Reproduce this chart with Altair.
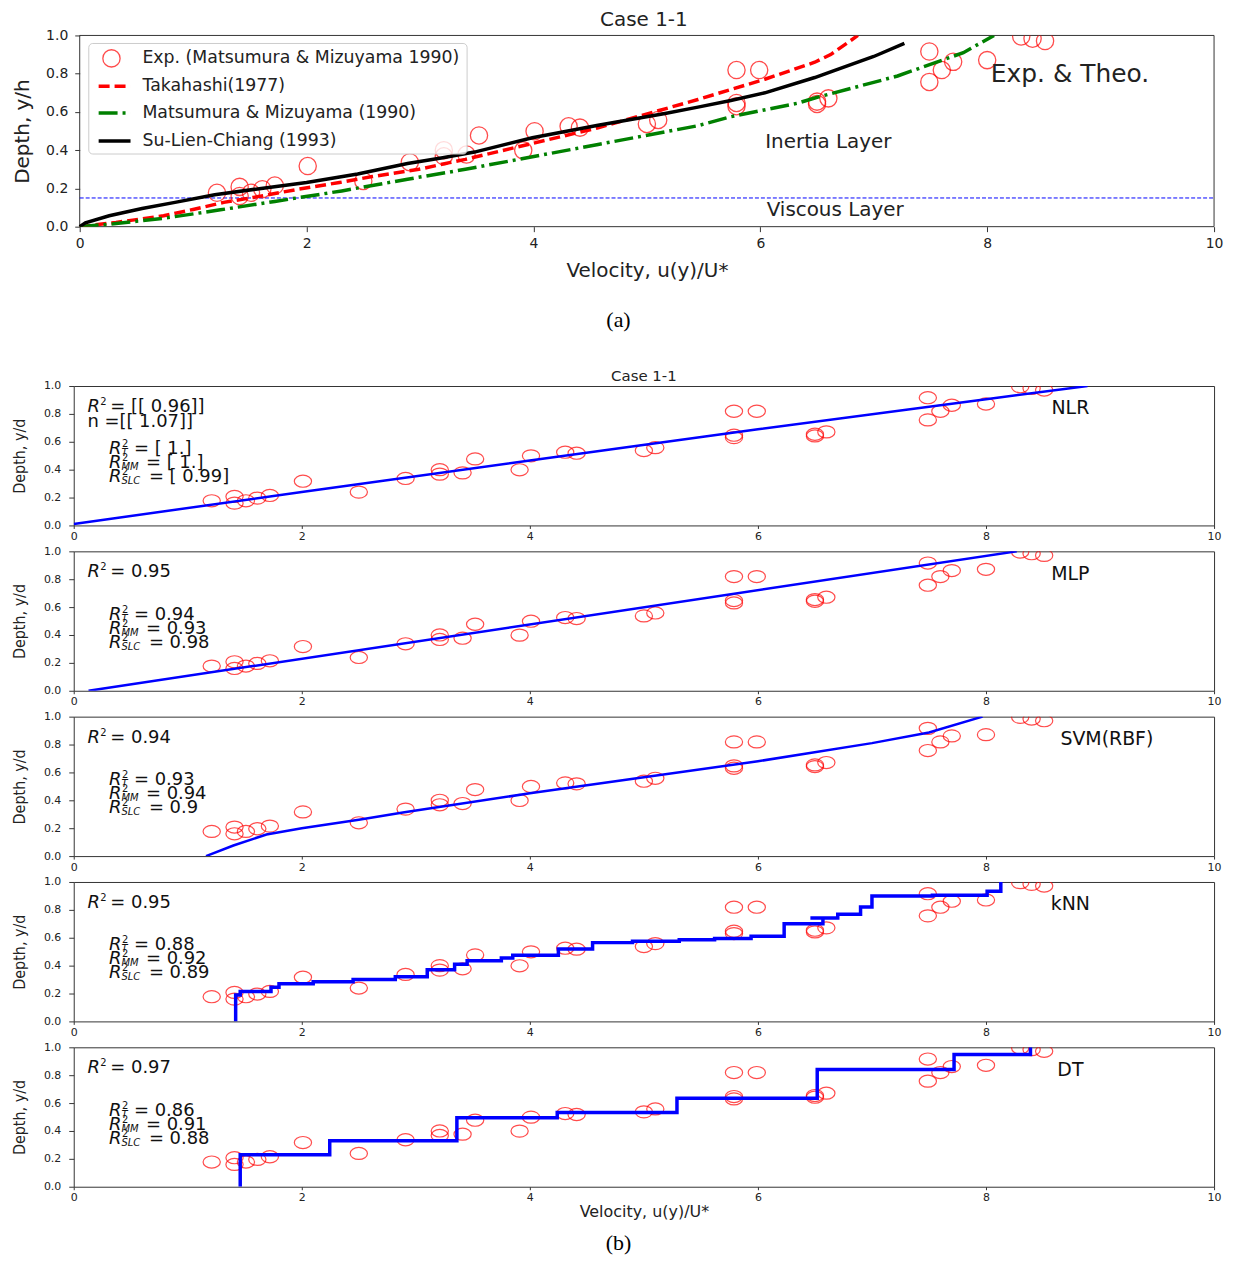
import altair as alt
import pandas as pd

# ---------------- data ----------------
# experimental points (Matsumura & Mizuyama 1990)
EXP_U = [1.21, 1.41, 1.41, 1.51, 1.61, 1.72, 2.01, 2.50, 2.91, 3.21, 3.21, 3.41, 3.52, 3.91, 4.01, 4.31, 4.41,
         5.00, 5.10, 5.79, 5.99, 5.79, 5.79, 6.50, 6.50, 6.60, 7.49, 7.49, 7.60, 7.70, 8.00, 8.30, 8.40, 8.51]
EXP_Y = [0.177, 0.208, 0.160, 0.177, 0.196, 0.215, 0.317, 0.239, 0.337, 0.400, 0.368, 0.377, 0.477, 0.399, 0.499, 0.525, 0.518,
         0.537, 0.558, 0.819, 0.819, 0.647, 0.630, 0.654, 0.642, 0.671, 0.916, 0.757, 0.819, 0.862, 0.871, 0.995, 0.983, 0.971]

# (a) theoretical curves
TAK_U = [0, 0.32, 0.74, 1.0, 1.27, 1.53, 1.93, 2.29, 2.58, 2.99, 3.26, 3.40, 4.57, 5.45, 6.04, 6.48, 6.62, 6.86]
TAK_Y = [0, 0.022, 0.057, 0.09, 0.127, 0.153, 0.196, 0.231, 0.262, 0.30, 0.335, 0.352, 0.517, 0.665, 0.771, 0.86, 0.90, 1.0]
MM_U = [0, 0.3, 0.755, 1.24, 1.72, 2.31, 2.89, 3.40, 4.57, 5.45, 5.74, 6.33, 6.48, 7.21, 7.79, 8.06]
MM_Y = [0, 0.015, 0.045, 0.088, 0.132, 0.187, 0.248, 0.30, 0.43, 0.528, 0.575, 0.646, 0.673, 0.788, 0.91, 1.0]
SLC_U = [0, 0.05, 0.26, 0.55, 0.84, 1.19, 1.6, 2.0, 2.45, 2.89, 3.2, 3.48, 3.99, 4.57, 5.16, 5.45, 5.74, 6.04, 6.48, 6.62, 7.0, 7.27]
SLC_Y = [0, 0.02, 0.057, 0.095, 0.127, 0.167, 0.20, 0.231, 0.275, 0.33, 0.36, 0.39, 0.465, 0.53, 0.592, 0.625, 0.66, 0.70, 0.78, 0.81, 0.89, 0.958]
VISCOUS_Y = 0.15
LEGEND_LABELS = ["Exp. (Matsumura & Mizuyama 1990)", "Takahashi(1977)", "Matsumura & Mizuyama (1990)", "Su-Lien-Chiang (1993)"]

# (b) machine-learning model curves
NLR_U = [0, 2, 4, 6, 8, 8.89]
NLR_Y = [0.01, 0.24, 0.465, 0.69, 0.905, 1.0]
MLP_U = [0.13, 8.27]
MLP_Y = [0.0, 1.0]
SVM_U = [1.16, 1.4, 1.69, 2.0, 2.5, 2.9, 4.0, 5.0, 6.0, 7.0, 7.5, 7.97]
SVM_Y = [0.0, 0.076, 0.155, 0.20, 0.26, 0.315, 0.45, 0.565, 0.68, 0.81, 0.886, 1.0]
KNN_U = [1.42, 1.42, 1.46, 1.46, 1.73, 1.73, 1.80, 1.80, 2.10, 2.10, 2.45, 2.45, 2.82, 2.82, 3.10, 3.10, 3.34, 3.34,
         3.45, 3.45, 3.75, 3.75, 3.85, 3.85, 4.25, 4.25, 4.55, 4.55, 4.90, 4.90, 5.31, 5.31, 5.62, 5.62, 5.94, 5.94,
         6.23, 6.23, 6.57, 6.57, 6.46, 6.70, 6.70, 6.90, 6.90, 7.00, 7.00, 7.53, 7.53, 8.01, 8.01, 8.13, 8.13]
KNN_Y = [0.0, 0.19, 0.19, 0.215, 0.215, 0.245, 0.245, 0.27, 0.27, 0.285, 0.285, 0.30, 0.30, 0.32, 0.32, 0.37, 0.37, 0.41,
         0.41, 0.435, 0.435, 0.455, 0.455, 0.475, 0.475, 0.52, 0.52, 0.565, 0.565, 0.575, 0.575, 0.585, 0.585, 0.594, 0.594, 0.611,
         0.611, 0.70, 0.70, 0.742, 0.742, 0.742, 0.768, 0.768, 0.821, 0.821, 0.90, 0.90, 0.905, 0.905, 0.933, 0.933, 1.0]
DT_U = [1.46, 1.46, 2.245, 2.245, 3.36, 3.36, 4.24, 4.24, 5.29, 5.29, 6.52, 6.52, 7.72, 7.72, 8.39, 8.39]
DT_Y = [0.0, 0.23, 0.23, 0.33, 0.33, 0.494, 0.494, 0.532, 0.532, 0.634, 0.634, 0.84, 0.84, 0.948, 0.948, 1.0]

MODEL_NAMES = ["NLR", "MLP", "SVM(RBF)", "kNN", "DT"]
R2_MAIN = ["= [[ 0.96]]", "= 0.95", "= 0.94", "= 0.95", "= 0.97"]
R2_T = ["= [ 1.]", "= 0.94", "= 0.93", "= 0.88", "= 0.86"]
R2_MM = ["= [ 1.]", "= 0.93", "= 0.94", "= 0.92", "= 0.91"]
R2_SLC = ["= [ 0.99]", "= 0.98", "= 0.9", "= 0.89", "= 0.88"]
NLR_N = "n =[[ 1.07]]"

X_TICKS = [0, 2, 4, 6, 8, 10]
Y_TICKS = [0, 0.2, 0.4, 0.6, 0.8, 1.0]

# ---------------- layout constants ----------------
W = 1145
TOP_H = 192
B_H = 140
GAP = 26
FONT = "DejaVu Sans"
COND = "Liberation Sans Narrow, DejaVu Sans Condensed, DejaVu Sans"
SERIF = "Liberation Serif, Times New Roman, serif"
ELLIPSE = "M -1 0 A 1 0.7 0 1 0 1 0 A 1 0.7 0 1 0 -1 0 Z"


def df(**cols):
    return pd.DataFrame(cols)


# ---------------- panel (a) ----------------
def tx(field="x"):
    return alt.X(f"{field}:Q",
                 scale=alt.Scale(domain=[0, 10], range=[6, W], nice=False, zero=False),
                 axis=alt.Axis(values=X_TICKS, format="d", title="Velocity, u(y)/U*", titleFontSize=20,
                               labelFontSize=14, tickSize=5, labelPadding=5, titlePadding=10, domain=False,
                               labelFlush=False))


def ty(field="y"):
    return alt.Y(f"{field}:Q",
                 scale=alt.Scale(domain=[0, 1], nice=False, zero=False),
                 axis=alt.Axis(values=Y_TICKS, format=".1f", title="Depth, y/h", titleFontSize=20,
                               labelFontSize=14, tickSize=5, labelPadding=7, titlePadding=13, offset=-6, domain=False,
                               labelFlush=False))


frame_a = alt.Chart(df(x=[0], x2=[10], y=[0], y2=[1])).mark_rect(
    fill="white", fillOpacity=0, stroke="#333", strokeWidth=1).encode(x=tx("x"), x2="x2:Q", y=ty("y"), y2="y2:Q")

visc = alt.Chart(df(x=[0], x2=[10], y=[VISCOUS_Y])).mark_rule(
    color="blue", strokeDash=[4, 2], strokeWidth=1).encode(x=tx("x"), x2="x2:Q", y=ty("y"))

pts_a = alt.Chart(df(x=EXP_U, y=EXP_Y)).mark_point(
    shape="circle", size=300, color="red", strokeWidth=1.3, filled=False, clip=True).encode(x=tx(), y=ty())


def curve_a(u, y, color, dash):
    kw = dict(color=color, strokeWidth=3.5, clip=True)
    if dash:
        kw["strokeDash"] = dash
    return alt.Chart(df(x=u, y=y, i=list(range(len(u))))).mark_line(**kw).encode(
        x=tx(), y=ty(), order="i:Q")


tak = curve_a(TAK_U, TAK_Y, "#ff0000", [11, 5])
mmc = curve_a(MM_U, MM_Y, "#008000", [19, 5, 3, 5])
slc = curve_a(SLC_U, SLC_Y, "black", None)

leg_box = alt.Chart(df(x=[0.08], x2=[3.415], y=[0.38], y2=[0.958])).mark_rect(
    fill="white", fillOpacity=0.8, stroke="#cccccc", strokeWidth=1, cornerRadius=4).encode(
    x=tx("x"), x2="x2:Q", y=ty("y"), y2="y2:Q")
LEG_Y = [0.88, 0.734, 0.594, 0.448]
leg_pt = alt.Chart(df(x=[0.28], y=[LEG_Y[0]])).mark_point(
    shape="circle", size=300, color="red", strokeWidth=1.3, filled=False).encode(x=tx(), y=ty())


def leg_line(yv, color, dash):
    kw = dict(color=color, strokeWidth=3.5)
    if dash:
        kw["strokeDash"] = dash
    return alt.Chart(df(x=[0.167], x2=[0.448], y=[yv])).mark_rule(**kw).encode(x=tx("x"), x2="x2:Q", y=ty("y"))


leg_l1 = leg_line(LEG_Y[1], "#ff0000", [11, 5])
leg_l2 = leg_line(LEG_Y[2], "#008000", [19, 5, 3, 5])
leg_l3 = leg_line(LEG_Y[3], "black", None)
leg_txt = alt.Chart(df(x=[0.553] * 4, y=LEG_Y, t=LEGEND_LABELS)).mark_text(
    align="left", baseline="middle", fontSize=17.4, font=FONT, color="#222").encode(x=tx(), y=ty(), text="t:N")

ann_mid = alt.Chart(df(x=[6.6, 6.66], y=[0.443, 0.089], t=["Inertia Layer", "Viscous Layer"])).mark_text(
    align="center", baseline="middle", fontSize=20, font=FONT, color="#222").encode(x=tx(), y=ty(), text="t:N")
ann_big = alt.Chart(df(x=[8.73], y=[0.80], t=["Exp. & Theo."])).mark_text(
    align="center", baseline="middle", fontSize=25, font=FONT, color="#222").encode(x=tx(), y=ty(), text="t:N")

top = alt.layer(frame_a, visc, pts_a, tak, mmc, slc, leg_box, leg_pt, leg_l1, leg_l2, leg_l3, leg_txt,
                ann_mid, ann_big).properties(
    width=W, height=TOP_H,
    title=alt.TitleParams("Case 1-1", fontSize=20, fontWeight="normal", font=FONT, offset=-2, frame="group",
                          color="#222"),
    view=alt.ViewBackground(stroke=None))

# ---------------- panel (b) ----------------
PXX = 10.0 / W
PXY = 1.0 / B_H


def bx(field, last):
    ax = dict(values=X_TICKS, format="d", labelFontSize=11, tickSize=3, labelPadding=2, domain=False,
              labelFlush=False)
    if last:
        ax.update(title="Velocity, u(y)/U*", titleFontSize=16, titlePadding=1)
    else:
        ax.update(title=None)
    return alt.X(f"{field}:Q", scale=alt.Scale(domain=[0, 10], nice=False, zero=False), axis=alt.Axis(**ax))


def by(field):
    return alt.Y(f"{field}:Q", scale=alt.Scale(domain=[0, 1], nice=False, zero=False),
                 axis=alt.Axis(values=Y_TICKS, format=".1f", title="Depth, y/d", titleFont=COND, titleFontSize=16,
                               labelFontSize=11, tickSize=5, labelPadding=8, titlePadding=16, domain=False,
                               labelFlush=False))


def r_rows(rows, x0, y0, sub, rest):
    rows.append((x0, y0, "R", 18, True))
    rows.append((x0 + 13 * PXX, y0 + 5 * PXY, "2", 10, False))
    off = 23
    if sub:
        rows.append((x0 + 12.5 * PXX, y0 - 4 * PXY, sub, 10, True))
        off = {"T": 25, "MM": 37, "SLC": 40}[sub]
    rows.append((x0 + off * PXX, y0, rest, 18, False))


def b_panel(k, cu, cy, width, first, last):
    X = lambda f="x": bx(f, last)
    pts = alt.Chart(df(x=EXP_U, y=EXP_Y)).mark_point(
        shape=ELLIPSE, size=300, color="red", strokeWidth=1.2, filled=False, clip=True).encode(x=X(), y=by("y"))
    line = alt.Chart(df(x=cu, y=cy, i=list(range(len(cu))))).mark_line(
        color="#0000ff", strokeWidth=width, clip=True).encode(x=X(), y=by("y"), order="i:Q")
    rows = []
    r_rows(rows, 0.12, 0.85, None, R2_MAIN[k])
    if k == 0:
        rows.append((0.12, 0.74, NLR_N, 18, False))
    r_rows(rows, 0.31, 0.545, "T", R2_T[k])
    r_rows(rows, 0.31, 0.445, "MM", R2_MM[k])
    r_rows(rows, 0.31, 0.345, "SLC", R2_SLC[k])
    tdf = pd.DataFrame(rows, columns=["x", "y", "t", "fs", "it"])
    t_norm = alt.Chart(tdf[~tdf.it]).mark_text(
        align="left", baseline="middle", font=FONT, color="#111").encode(
        x=X(), y=by("y"), text="t:N", size=alt.Size("fs:Q", scale=None, legend=None))
    t_ital = alt.Chart(tdf[tdf.it]).mark_text(
        align="left", baseline="middle", font=FONT, fontStyle="italic", color="#111").encode(
        x=X(), y=by("y"), text="t:N", size=alt.Size("fs:Q", scale=None, legend=None))
    lab = alt.Chart(df(x=[8.74 if k != 2 else 9.06], y=[0.84], t=[MODEL_NAMES[k]])).mark_text(
        align="center", baseline="middle", fontSize=19, font=FONT, color="#111").encode(x=X(), y=by("y"), text="t:N")
    props = dict(width=W, height=B_H, view=alt.ViewBackground(stroke="#333", strokeWidth=1))
    if first:
        props["title"] = alt.TitleParams("Case 1-1", fontSize=15, fontWeight="normal", font=FONT, offset=-4,
                                         frame="group", color="#222")
    return alt.layer(pts, line, t_norm, t_ital, lab).properties(**props)


b_curves = [(NLR_U, NLR_Y, 2.5), (MLP_U, MLP_Y, 2.5), (SVM_U, SVM_Y, 2.5), (KNN_U, KNN_Y, 3.5), (DT_U, DT_Y, 3.5)]
b_panels = [b_panel(k, u, y, w, k == 0, k == 4) for k, (u, y, w) in enumerate(b_curves)]


def caption(text, xpx, ypx, h):
    return alt.Chart(df(t=[text])).mark_text(
        font=SERIF, fontSize=22, color="black", align="center", baseline="middle").encode(
        text="t:N", x=alt.value(xpx), y=alt.value(ypx)).properties(
        width=W, height=h, view=alt.ViewBackground(stroke=None))


capA = caption("(a)", 547, 68, 108)
capB = caption("(b)", 547, 31, 38)

chart = alt.vconcat(top, capA, *b_panels, capB, spacing=GAP, bounds="flush").configure(
    padding={"left": 3, "top": 0, "right": 5, "bottom": 0}
).configure_axis(
    domainColor="#333", tickColor="#333", labelColor="#222", titleColor="#222",
    labelFont=FONT, titleFont=FONT, titleFontWeight="normal", grid=False
).configure_text(font=FONT)

chart.save("out.html", embed_options={"renderer": "svg", "actions": False})
